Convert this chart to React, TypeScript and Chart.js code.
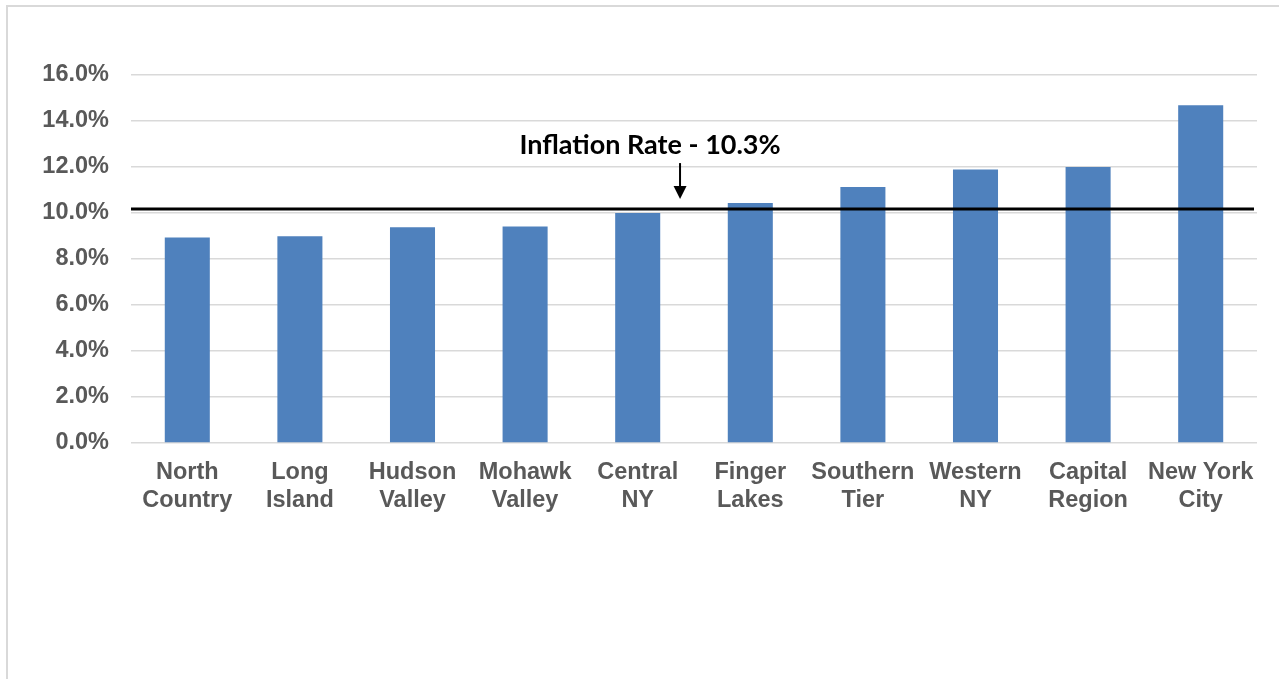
import React, { useEffect, useRef } from "react";
import { Chart, registerables } from "chart.js";

Chart.register(...registerables);

const categories: string[][] = [
  ["North", "Country"],
  ["Long", "Island"],
  ["Hudson", "Valley"],
  ["Mohawk", "Valley"],
  ["Central", "NY"],
  ["Finger", "Lakes"],
  ["Southern", "Tier"],
  ["Western", "NY"],
  ["Capital", "Region"],
  ["New York", "City"],
];
const wageGrowth: number[] = [8.93, 8.99, 9.38, 9.41, 10.0, 10.43, 11.13, 11.89, 12.0, 14.68];
const inflationLineValue = 10.17;
const inflationLabel = "Inflation Rate - 10.3%";
const yTicks = { min: 0, max: 16, step: 2 };

const inflationPlugin = {
  id: "inflationLine",
  afterDatasetsDraw(chart: any) {
    const { ctx, chartArea, scales } = chart;
    const y = scales.y.getPixelForValue(inflationLineValue);
    ctx.save();
    ctx.strokeStyle = "#000000";
    ctx.lineWidth = 3;
    ctx.beginPath();
    ctx.moveTo(chartArea.left, y);
    ctx.lineTo(chartArea.right - 3, y);
    ctx.stroke();
    // arrow
    const ax = chartArea.left + (chartArea.right - chartArea.left) * 0.4876;
    const tipY = y - 10;
    const topY = y - 46;
    ctx.lineWidth = 2;
    ctx.beginPath();
    ctx.moveTo(ax, topY);
    ctx.lineTo(ax, tipY - 10);
    ctx.stroke();
    ctx.fillStyle = "#000000";
    ctx.beginPath();
    ctx.moveTo(ax - 6.5, tipY - 13);
    ctx.lineTo(ax + 6.5, tipY - 13);
    ctx.lineTo(ax, tipY);
    ctx.closePath();
    ctx.fill();
    // label
    ctx.font = "bold 27px Lato";
    ctx.textAlign = "center";
    ctx.textBaseline = "alphabetic";
    ctx.fillText(inflationLabel, ax - 30, topY - 9);
    ctx.restore();
  },
};

export default function App() {
  const canvasRef = useRef<HTMLCanvasElement | null>(null);

  useEffect(() => {
    const canvas = canvasRef.current;
    if (!canvas) return;
    const chart = new Chart(canvas, {
      type: "bar",
      data: {
        labels: categories,
        datasets: [
          {
            data: wageGrowth,
            backgroundColor: "#4F81BD",
            borderWidth: 0,
            barPercentage: 0.4,
            categoryPercentage: 1,
          },
        ],
      },
      options: {
        animation: false,
        responsive: false,
        maintainAspectRatio: false,
        layout: { padding: { top: 75, right: 22, left: 0, bottom: 0 } },
        plugins: {
          legend: { display: false },
          tooltip: { enabled: false },
        },
        scales: {
          x: {
            grid: { display: false, drawTicks: false },
            border: { display: false },
            ticks: {
              color: "#595959",
              font: { family: "Liberation Sans", size: 23.5, weight: "bold", lineHeight: 1.19 },
              padding: 16,
              maxRotation: 0,
              autoSkip: false,
            },
            afterFit: (s: any) => {
              s.height = 679 - 443;
            },
          },
          y: {
            min: yTicks.min,
            max: yTicks.max,
            grid: { color: "#D9D9D9", lineWidth: 1.5, drawTicks: false },
            border: { display: false },
            ticks: {
              stepSize: yTicks.step,
              color: "#595959",
              font: { family: "Liberation Sans", size: 23.5, weight: "bold" },
              padding: 22,
              callback: (v: any) => Number(v).toFixed(1) + "%",
            },
            afterFit: (s: any) => {
              s.width = 131;
            },
          },
        },
      },
      plugins: [inflationPlugin],
    });
    return () => chart.destroy();
  }, []);

  return (
    <div style={{ position: "fixed", left: 0, top: 0, width: 1279, height: 679, background: "#fff", overflow: "hidden" }}>
      <div
        style={{
          position: "absolute",
          left: 6,
          top: 5,
          width: 1400,
          height: 800,
          border: "2px solid #D9D9D9",
        }}
      />
      <canvas ref={canvasRef} width={1279} height={679} style={{ position: "absolute", left: 0, top: 0 }} />
    </div>
  );
}
